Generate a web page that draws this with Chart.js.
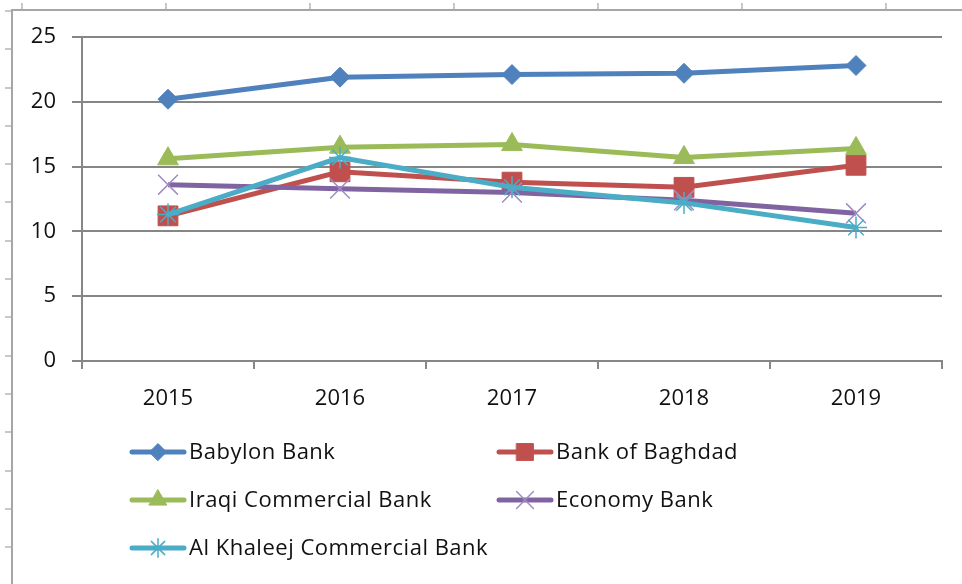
<!DOCTYPE html>
<html>
<head>
<meta charset="utf-8">
<script src="https://cdn.jsdelivr.net/npm/chart.js@4/dist/chart.umd.min.js"></script>
<style>
  html, body { margin: 0; padding: 0; background: #fff; }
  #wrap { position: relative; width: 962px; height: 584px; overflow: hidden; }
  #chart { position: absolute; left: 0; top: 0; }
  /* sheet frame behind the chart */
  .frame-top { position: absolute; left: 11px; top: 9px; width: 951px; height: 2px; background: #a6a6a6; }
  .frame-left { position: absolute; left: 11px; top: 9px; width: 2px; height: 575px; background: #a6a6a6; }
  .ticks-top { position: absolute; left: 0; top: 3px; width: 962px; height: 6px;
    background: repeating-linear-gradient(to right, transparent 0, transparent 21px, #c8c8c8 21px, #c8c8c8 23px, transparent 23px, transparent 144px); }
  .ticks-left { position: absolute; left: 5px; top: 0; width: 6px; height: 584px;
    background: repeating-linear-gradient(to bottom, transparent 0, transparent 10px, #c8c8c8 10px, #c8c8c8 12px, transparent 12px, transparent 38.3px); }
</style>
</head>
<body>
<div id="wrap">
  <div class="ticks-top"></div>
  <div class="ticks-left"></div>
  <div class="frame-top"></div>
  <div class="frame-left"></div>
  <canvas id="chart" width="962" height="584"></canvas>
</div>
<script>
const years = ['2015', '2016', '2017', '2018', '2019'];

const babylonBank = [20.2, 21.9, 22.1, 22.2, 22.8];
const bankOfBaghdad = [11.2, 14.6, 13.8, 13.4, 15.1];
const iraqiCommercialBank = [15.6, 16.5, 16.7, 15.7, 16.4];
const economyBank = [13.6, 13.3, 13.0, 12.4, 11.4];
const alKhaleejBank = [11.3, 15.7, 13.4, 12.2, 10.3];

const yTicks = [0, 5, 10, 15, 20, 25];

const textFont = { family: "'Open Sans', sans-serif", size: 22 };
const textColor = '#111';

function series(label, data, color, style, radius, pointColor, pointWidth, order) {
  return {
    label: label,
    data: data,
    borderColor: color,
    backgroundColor: pointColor,
    borderWidth: 5,
    pointStyle: style,
    pointRadius: radius,
    pointHoverRadius: radius,
    pointBackgroundColor: pointColor,
    pointBorderColor: pointColor,
    pointBorderWidth: pointWidth,
    tension: 0,
    order: order
  };
}

// legend drawn by hand so it sits in two columns like the original
const legendPlugin = {
  id: 'sheetLegend',
  afterDraw(chart) {
    const ctx = chart.ctx;
    const cols = [130, 497];
    const rows = [452, 500, 548];
    chart.data.datasets.forEach((ds, i) => {
      const x = cols[i % 2];
      const y = rows[Math.floor(i / 2)];
      ctx.save();
      ctx.strokeStyle = ds.borderColor;
      ctx.lineWidth = 5;
      ctx.lineCap = 'round';
      ctx.beginPath();
      ctx.moveTo(x + 2, y);
      ctx.lineTo(x + 54, y);
      ctx.stroke();
      ctx.fillStyle = ds.pointBackgroundColor;
      ctx.strokeStyle = ds.pointBorderColor;
      ctx.lineWidth = ds.pointBorderWidth;
      Chart.helpers.drawPoint(ctx, {
        pointStyle: ds.pointStyle,
        radius: ds.pointRadius * 0.85,
        rotation: 0,
        borderWidth: ds.pointBorderWidth
      }, x + 28, y);
      ctx.fillStyle = textColor;
      ctx.font = textFont.size + 'px ' + textFont.family;
      ctx.letterSpacing = '0.5px';
      ctx.textBaseline = 'middle';
      ctx.textAlign = 'left';
      ctx.fillText(ds.label, x + 59, y + 1);
      ctx.restore();
    });
  }
};

const ctx = document.getElementById('chart').getContext('2d');
const chart = new Chart(ctx, {
  type: 'line',
  data: {
    labels: years,
    datasets: [
      series('Babylon Bank', babylonBank, '#4f81bd', 'rectRot', 10, '#4f81bd', 1, 4),
      series('Bank of Baghdad', bankOfBaghdad, '#c0504d', 'rect', 14, '#c0504d', 1, 3),
      series('Iraqi Commercial Bank', iraqiCommercialBank, '#9bbb59', 'triangle', 12, '#9bbb59', 1, 2),
      series('Economy Bank', economyBank, '#8064a2', 'crossRot', 14, '#a08cc4', 1.5, 1),
      series('Al Khaleej Commercial Bank', alKhaleejBank, '#4bacc6', 'star', 11, '#4bacc6', 1.5, 0)
    ]
  },
  options: {
    responsive: false,
    animation: false,
    events: [],
    layout: { padding: { left: 10, top: 37, right: 20, bottom: 163 } },
    plugins: {
      legend: { display: false },
      tooltip: { enabled: false }
    },
    scales: {
      x: {
        offset: true,
        grid: {
          offset: true,
          display: true,
          drawOnChartArea: false,
          drawTicks: true,
          tickLength: 8,
          color: '#868686',
          lineWidth: 2
        },
        border: { display: true, color: '#868686', width: 2 },
        ticks: { color: textColor, font: textFont, padding: 17, maxRotation: 0 },
        afterFit(scale) { scale.height = 60; }
      },
      y: {
        min: 0,
        max: 25,
        afterBuildTicks(scale) { scale.ticks = yTicks.map(v => ({ value: v })); },
        grid: {
          color: '#868686',
          lineWidth: 2,
          tickLength: 10,
          drawTicks: true
        },
        border: { display: true, color: '#868686', width: 2 },
        ticks: { color: textColor, font: textFont, padding: 16 },
        afterFit(scale) { scale.width = 72; }
      }
    }
  },
  plugins: [legendPlugin]
});
</script>
</body>
</html>
